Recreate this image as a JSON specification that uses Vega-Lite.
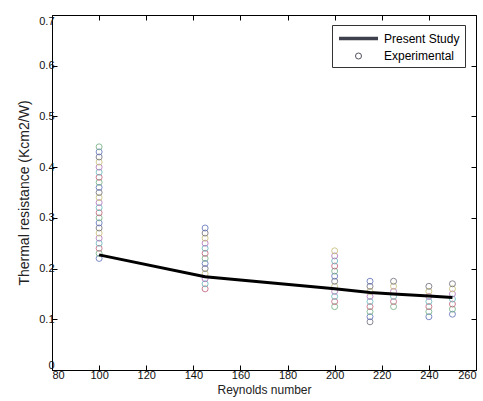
{
  "$schema": "https://vega.github.io/schema/vega-lite/v6.json",
  "width": 424,
  "height": 355,
  "autosize": {"type": "none"},
  "padding": {"left": 52, "top": 15, "right": 7, "bottom": 31},
  "background": "white",
  "config": {
    "font": "Liberation Sans",
    "view": {"stroke": "black", "strokeWidth": 1},
    "axis": {
      "domain": false,
      "grid": false,
      "tickColor": "black",
      "tickSize": -5,
      "labelColor": "#111",
      "labelFontSize": 11,
      "titleColor": "#222",
      "titleFontSize": 12,
      "titleFontWeight": "normal"
    }
  },
  "datasets": {
    "exp": [
      {"x":100,"y":0.22,"c":"a","s":"Experimental"},{"x":100,"y":0.23,"c":"b","s":"Experimental"},{"x":100,"y":0.24,"c":"c","s":"Experimental"},{"x":100,"y":0.25,"c":"d","s":"Experimental"},{"x":100,"y":0.26,"c":"e","s":"Experimental"},{"x":100,"y":0.27,"c":"f","s":"Experimental"},{"x":100,"y":0.28,"c":"g","s":"Experimental"},{"x":100,"y":0.29,"c":"a","s":"Experimental"},{"x":100,"y":0.30,"c":"b","s":"Experimental"},{"x":100,"y":0.31,"c":"c","s":"Experimental"},{"x":100,"y":0.32,"c":"d","s":"Experimental"},{"x":100,"y":0.33,"c":"e","s":"Experimental"},{"x":100,"y":0.34,"c":"f","s":"Experimental"},{"x":100,"y":0.35,"c":"g","s":"Experimental"},{"x":100,"y":0.36,"c":"a","s":"Experimental"},{"x":100,"y":0.37,"c":"b","s":"Experimental"},{"x":100,"y":0.38,"c":"c","s":"Experimental"},{"x":100,"y":0.39,"c":"d","s":"Experimental"},{"x":100,"y":0.40,"c":"e","s":"Experimental"},{"x":100,"y":0.41,"c":"f","s":"Experimental"},{"x":100,"y":0.42,"c":"g","s":"Experimental"},{"x":100,"y":0.43,"c":"a","s":"Experimental"},{"x":100,"y":0.44,"c":"b","s":"Experimental"},
      {"x":145,"y":0.16,"c":"c","s":"Experimental"},{"x":145,"y":0.17,"c":"d","s":"Experimental"},{"x":145,"y":0.18,"c":"e","s":"Experimental"},{"x":145,"y":0.19,"c":"f","s":"Experimental"},{"x":145,"y":0.20,"c":"g","s":"Experimental"},{"x":145,"y":0.21,"c":"a","s":"Experimental"},{"x":145,"y":0.22,"c":"b","s":"Experimental"},{"x":145,"y":0.23,"c":"c","s":"Experimental"},{"x":145,"y":0.24,"c":"d","s":"Experimental"},{"x":145,"y":0.25,"c":"e","s":"Experimental"},{"x":145,"y":0.26,"c":"f","s":"Experimental"},{"x":145,"y":0.27,"c":"g","s":"Experimental"},{"x":145,"y":0.28,"c":"a","s":"Experimental"},
      {"x":200,"y":0.125,"c":"b","s":"Experimental"},{"x":200,"y":0.135,"c":"c","s":"Experimental"},{"x":200,"y":0.145,"c":"d","s":"Experimental"},{"x":200,"y":0.155,"c":"e","s":"Experimental"},{"x":200,"y":0.165,"c":"f","s":"Experimental"},{"x":200,"y":0.175,"c":"g","s":"Experimental"},{"x":200,"y":0.185,"c":"a","s":"Experimental"},{"x":200,"y":0.195,"c":"b","s":"Experimental"},{"x":200,"y":0.205,"c":"c","s":"Experimental"},{"x":200,"y":0.215,"c":"d","s":"Experimental"},{"x":200,"y":0.225,"c":"e","s":"Experimental"},{"x":200,"y":0.235,"c":"f","s":"Experimental"},
      {"x":215,"y":0.095,"c":"g","s":"Experimental"},{"x":215,"y":0.105,"c":"a","s":"Experimental"},{"x":215,"y":0.115,"c":"b","s":"Experimental"},{"x":215,"y":0.125,"c":"c","s":"Experimental"},{"x":215,"y":0.135,"c":"d","s":"Experimental"},{"x":215,"y":0.145,"c":"e","s":"Experimental"},{"x":215,"y":0.155,"c":"f","s":"Experimental"},{"x":215,"y":0.165,"c":"g","s":"Experimental"},{"x":215,"y":0.175,"c":"a","s":"Experimental"},
      {"x":225,"y":0.125,"c":"b","s":"Experimental"},{"x":225,"y":0.135,"c":"c","s":"Experimental"},{"x":225,"y":0.145,"c":"d","s":"Experimental"},{"x":225,"y":0.155,"c":"e","s":"Experimental"},{"x":225,"y":0.165,"c":"f","s":"Experimental"},{"x":225,"y":0.175,"c":"g","s":"Experimental"},
      {"x":240,"y":0.105,"c":"a","s":"Experimental"},{"x":240,"y":0.115,"c":"b","s":"Experimental"},{"x":240,"y":0.125,"c":"c","s":"Experimental"},{"x":240,"y":0.135,"c":"d","s":"Experimental"},{"x":240,"y":0.145,"c":"e","s":"Experimental"},{"x":240,"y":0.155,"c":"f","s":"Experimental"},{"x":240,"y":0.165,"c":"g","s":"Experimental"},
      {"x":250,"y":0.11,"c":"a","s":"Experimental"},{"x":250,"y":0.12,"c":"b","s":"Experimental"},{"x":250,"y":0.13,"c":"c","s":"Experimental"},{"x":250,"y":0.14,"c":"d","s":"Experimental"},{"x":250,"y":0.15,"c":"e","s":"Experimental"},{"x":250,"y":0.16,"c":"f","s":"Experimental"},{"x":250,"y":0.17,"c":"g","s":"Experimental"}
    ],
    "model": [
      {"x":100,"y":0.227},{"x":145,"y":0.184},{"x":200,"y":0.16},{"x":215,"y":0.153},{"x":225,"y":0.15},{"x":240,"y":0.146},{"x":250,"y":0.143}
    ]
  },
  "layer": [
    {
      "data": {"name": "exp"},
      "mark": {"type": "point", "filled": false, "opacity": 0.9},
      "encoding": {
        "x": {"field": "x", "type": "quantitative",
          "scale": {"domain": [80, 260], "nice": false, "zero": false},
          "axis": {"orient": "bottom", "values": [80,100,120,140,160,180,200,220,240,260], "title": "Reynolds number", "labelPadding": 4, "titlePadding": 4}},
        "y": {"field": "y", "type": "quantitative",
          "scale": {"domain": [0, 0.7], "nice": false, "zero": false},
          "axis": {"orient": "left", "values": [0,0.1,0.2,0.3,0.4,0.5,0.6,0.7], "format": "~g", "labelFlush": true, "title": "Thermal resistance (Kcm2/W)", "titleFontSize": 14, "labelPadding": 3, "titlePadding": 7}},
        "color": {"field": "c", "type": "nominal",
          "scale": {"domain": ["a","b","c","d","e","f","g"], "range": ["#5f6fb8","#6fae7f","#c0607a","#62b4b8","#b070b8","#c4bc72","#6e6e7a"]},
          "legend": null},
        "shape": {"field": "s", "type": "ordinal",
          "scale": {"domain": ["Present Study", "Experimental"], "range": ["M-3,0H3", "circle"]},
          "legend": {
            "title": null,
            "orient": "none",
            "legendX": 280,
            "legendY": 10,
            "strokeColor": "#333",
            "fillColor": "white",
            "padding": 5,
            "symbolStrokeColor": "#2a2d3a",
            "symbolFillColor": "transparent",
            "symbolOffset": 13,
            "labelFontSize": 12,
            "labelColor": "black",
            "labelOffset": 17,
            "rowPadding": 4
          }},
        "size": {"field": "s", "type": "ordinal",
          "scale": {"domain": ["Present Study", "Experimental"], "range": [169, 36]},
          "legend": {"title": null}},
        "strokeWidth": {"field": "s", "type": "ordinal",
          "scale": {"domain": ["Present Study", "Experimental"], "range": [3.5, 0.9]},
          "legend": {"title": null}}
      }
    },
    {
      "data": {"name": "model"},
      "mark": {"type": "line", "color": "black", "strokeWidth": 3},
      "encoding": {
        "x": {"field": "x", "type": "quantitative",
          "axis": {"orient": "top", "values": [80,100,120,140,160,180,200,220,240,260], "labels": false, "title": null}},
        "y": {"field": "y", "type": "quantitative",
          "axis": {"orient": "right", "values": [0,0.1,0.2,0.3,0.4,0.5,0.6,0.7], "labels": false, "title": null}}
      }
    }
  ],
  "resolve": {"axis": {"x": "independent", "y": "independent"}}
}
